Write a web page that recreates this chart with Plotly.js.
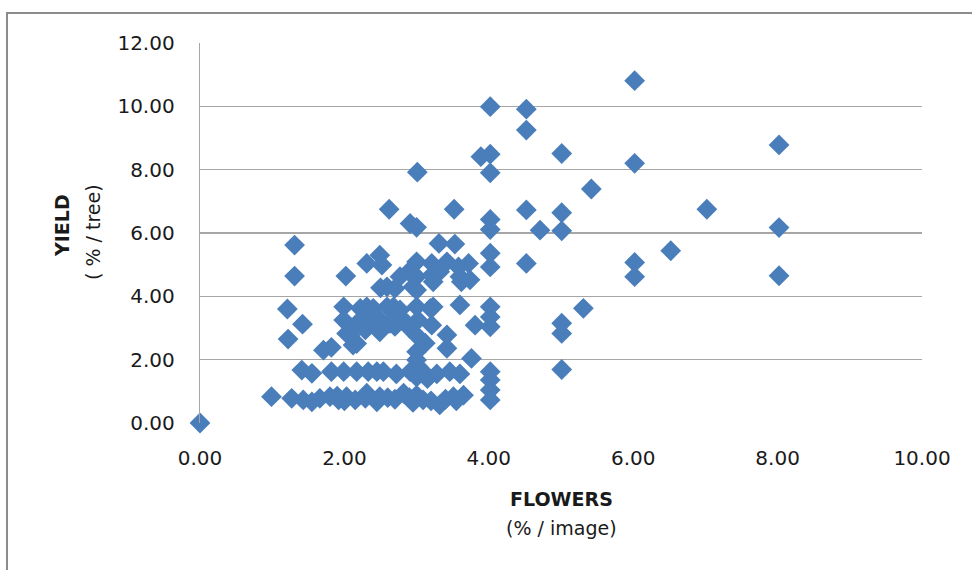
<!DOCTYPE html>
<html>
<head>
<meta charset="utf-8">
<script src="https://cdn.plot.ly/plotly-3.0.1.min.js"></script>
<style>
html,body{margin:0;padding:0;background:#fff;}
#frame{position:absolute;left:6px;top:12px;width:980px;height:600px;border-left:2px solid #8c8c8c;border-top:2px solid #8c8c8c;}
#chart{position:absolute;left:0;top:0;width:972px;height:570px;}
</style>
</head>
<body>
<div id="frame"></div>
<div id="chart"></div>
<script>
// FLOWERS (% / image)
const flowers = [
  0,
  4.02,4.52,4.52,3.89,4.02,4.02,3.01,2.62,3.52,4.52,2.91,3.0,4.02,4.02,4.71,5.01,6.02,6.02,8.02,5.42,5.01,5.01,7.02,8.02,4.52,6.52,6.02,6.02,8.02,5.31,5.01,5.01,5.01,
  1.31,1.31,2.02,2.31,2.49,2.52,2.5,3.31,3.53,3.0,3.21,3.42,3.58,3.72,4.02,4.02,2.77,3.0,3.21,3.6,3.74,2.89,3.32,2.7,3.0,
  2.59,2.95,3.23,3.62,
  1.21,1.42,1.22,1.71,1.82,1.99,1.99,2.03,2.17,2.22,2.40,2.22,2.08,2.29,2.12,2.31,2.49,2.49,2.68,2.72,3.0,3.23,3.02,3.21,3.42,3.42,3.02,3.12,3.81,4.02,4.02,4.02,3.6,2.59,2.77,2.63,2.82,3.19,2.35,2.1,2.9,2.7,2.45,
  3.76,3.0,3.02,3.0,
  1.41,1.55,1.82,1.99,2.17,2.33,2.45,2.54,2.72,2.91,3.09,3.28,3.46,3.6,4.02,4.02,3.0,3.15,
  0.99,1.27,1.43,1.55,1.66,1.8,1.92,2.03,2.15,2.29,2.45,2.31,2.49,2.82,3.0,3.09,3.32,3.51,3.65,4.02,4.02,2.6,2.7,2.9,3.2,3.4,2.0,1.9,3.55,2.95
];
// YIELD (% / tree)
const yieldPct = [
  0,
  9.99,9.91,9.25,8.41,8.49,7.9,7.92,6.75,6.75,6.73,6.3,6.18,6.43,6.11,6.09,8.51,10.81,8.2,8.78,7.39,6.64,6.07,6.75,6.17,5.04,5.44,5.07,4.62,4.65,3.62,3.15,2.83,1.69,
  5.62,4.64,4.64,5.04,5.3,4.99,4.27,5.67,5.65,5.09,5.04,5.09,4.93,5.04,5.36,4.93,4.62,4.62,4.67,4.62,4.52,4.78,4.78,4.25,4.2,
  4.3,4.3,4.46,4.46,
  3.6,3.12,2.65,2.3,2.39,3.67,3.25,2.83,2.51,3.62,3.62,3.25,2.78,2.94,2.46,3.67,3.25,2.88,3.67,3.41,3.67,3.67,3.25,3.09,2.78,2.36,2.72,2.52,3.09,3.35,3.04,3.67,3.73,3.67,3.57,3.15,3.25,3.62,3.3,3.0,3.0,3.05,3.0,
  2.04,1.99,1.78,2.25,
  1.67,1.57,1.62,1.62,1.62,1.62,1.62,1.62,1.55,1.62,1.62,1.55,1.62,1.55,1.62,1.36,1.45,1.4,
  0.83,0.78,0.73,0.67,0.78,0.83,0.73,0.83,0.73,0.78,0.67,0.94,0.83,0.94,0.88,0.73,0.57,0.83,0.88,1.04,0.73,0.8,0.75,0.8,0.7,0.75,0.7,0.85,0.7,0.65
];
const xTicks = [0,2,4,6,8,10];
const yTicks = [0,2,4,6,8,10,12];

const tickFont = {family: 'DejaVu Sans, sans-serif', size: 20, color: '#1a1a1a'};
const titleFont = {family: 'DejaVu Sans, sans-serif', size: 19, color: '#1a1a1a'};

const trace = {
  x: flowers, y: yieldPct, type: 'scatter', mode: 'markers',
  cliponaxis: false,
  marker: {symbol: 'diamond', size: 16, color: '#4a7ebb', line: {width: 0}},
  hoverinfo: 'x+y'
};

const layout = {
  width: 972, height: 570,
  margin: {l: 200, r: 50, t: 43, b: 147},
  paper_bgcolor: 'rgba(0,0,0,0)', plot_bgcolor: 'rgba(0,0,0,0)',
  showlegend: false,
  xaxis: {
    range: [0, 10], tickvals: xTicks, tickformat: '.2f',
    showgrid: false, zeroline: false, showline: false,
    ticks: '', tickfont: tickFont, ticklabelstandoff: 21
  },
  yaxis: {
    range: [0, 12], tickvals: yTicks, tickformat: '.2f',
    showgrid: true, gridcolor: '#a6a6a6', gridwidth: 1.3,
    zeroline: false, showline: true, linecolor: '#a6a6a6', linewidth: 1.3,
    ticks: '', tickfont: tickFont, ticklabelstandoff: 20
  },
  annotations: [
    {text: '<b>FLOWERS</b>', xref: 'paper', yref: 'paper', x: 0.5, y: (570 - 147 - 499) / 380,
     xanchor: 'center', yanchor: 'middle', showarrow: false, font: titleFont},
    {text: '(% / image)', xref: 'paper', yref: 'paper', x: 0.5, y: (570 - 147 - 528) / 380,
     xanchor: 'center', yanchor: 'middle', showarrow: false, font: titleFont},
    {text: '<b>YIELD</b>', xref: 'paper', yref: 'paper', x: (62 - 200) / 722, y: (423 - 226) / 380,
     xanchor: 'center', yanchor: 'middle', showarrow: false, textangle: -90, font: titleFont},
    {text: '( % / tree)', xref: 'paper', yref: 'paper', x: (93 - 200) / 722, y: (423 - 232) / 380,
     xanchor: 'center', yanchor: 'middle', showarrow: false, textangle: -90, font: titleFont}
  ]
};

Plotly.newPlot('chart', [trace], layout, {displayModeBar: false, staticPlot: true});
</script>
</body>
</html>
